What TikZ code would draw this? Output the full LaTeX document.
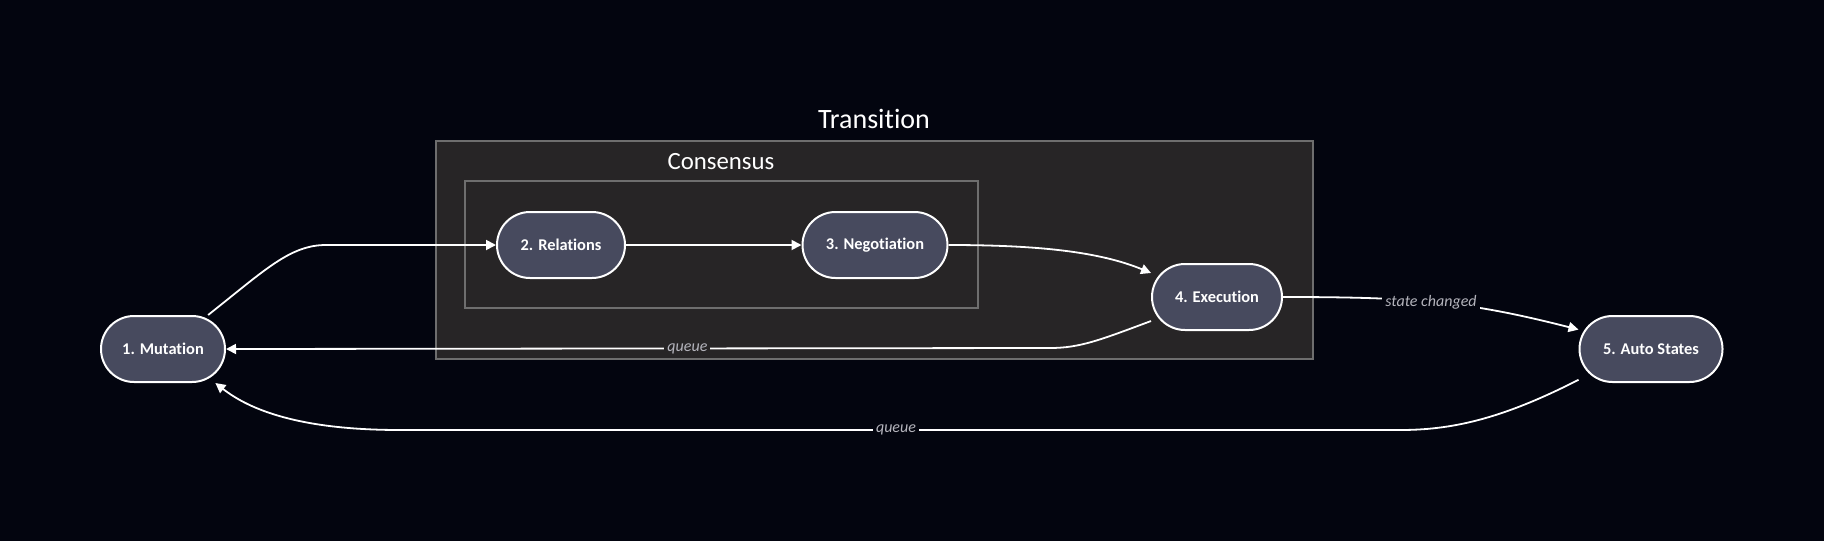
\documentclass[tikz,border=0pt]{standalone}
\usepackage{fontspec}
\setmainfont{Carlito}[Ligatures=NoCommon]
\usepackage{xcolor}
\usepackage{tikz}
\usetikzlibrary{calc,arrows.meta}

\definecolor{bgc}{HTML}{03050F}
\definecolor{boxc}{HTML}{272526}
\definecolor{edgec}{HTML}{6E6E6E}
\definecolor{nodec}{HTML}{474A5E}
\definecolor{lblc}{HTML}{B4B4BC}

\tikzset{
  stage/.style={draw=white, line width=1pt, fill=nodec, rounded corners=16.5pt,
    minimum height=33pt, inner sep=0pt, text=white,
    font=\bfseries\fontsize{8.2}{10}\selectfont},
  flow/.style={draw=white, line width=0.9pt, ->},
  lbl/.style={font=\itshape\fontsize{8}{10}\selectfont, text=lblc, inner sep=1.5pt},
  title/.style={text=white}
}

\begin{document}
\begin{tikzpicture}[x=0.5pt,y=-0.5pt,>={Triangle[length=5pt,width=5pt]}]
			\fill[bgc] (0,0) rectangle (1824,541);
			\useasboundingbox (0,0) rectangle (1824,541);
			
			% boxes
			\draw[fill=boxc,draw=edgec,line width=1pt] (436,141) rectangle (1313,359);
			\draw[draw=edgec,line width=1pt] (465,181) rectangle (978,308);
			\node[title,font=\fontsize{14}{16}\selectfont] (trans) at (874,119) {Transition};
			\node[title,font=\fontsize{12.4}{14}\selectfont] (cons) at (721,162) {Consensus};
			
			\node[stage,minimum width=62pt] (mut) at (163,349) {1. Mutation};
			\node[stage,minimum width=64pt] (rel) at (561,245) {2. Relations};
			\node[stage,minimum width=72.5pt] (neg) at (875,245) {3. Negotiation};
			\node[stage,minimum width=65pt] (exe) at (1217,297) {4. Execution};
			\node[stage,minimum width=71.5pt] (auto) at (1651,349) {5. Auto States};
			
			\coordinate (b1) at (326,245);
			\coordinate (b2) at (1050,348);
			\coordinate (b3) at (1400,430);
			\coordinate (b4) at (400,430);
			
			\draw[flow] (mut.37) .. controls (265,270) and (290,245) .. (b1) -- (rel.west);
			\draw[flow] (rel.east) -- (neg.west);
			\draw[flow] (neg.east) .. controls (1040,245) and (1100,252) .. (exe.160);
			\draw[flow] (exe.200) .. controls (1100,340) and (1080,348) .. (b2)
				-- node[lbl,fill=boxc,pos=0.44] (q1) {queue} (mut.east);
			\draw[flow] (exe.east) .. controls (1420,297) and (1470,302) .. node[lbl,fill=bgc,pos=0.46] (sc) {state changed} (auto.165);
			\draw[flow] (auto.203) .. controls (1500,420) and (1450,430) .. (b3)
				-- node[lbl,fill=bgc,pos=0.504] (q2) {queue} (b4)
				.. controls (300,430) and (250,410) .. (mut.-33);
		\end{tikzpicture}
\end{document}
